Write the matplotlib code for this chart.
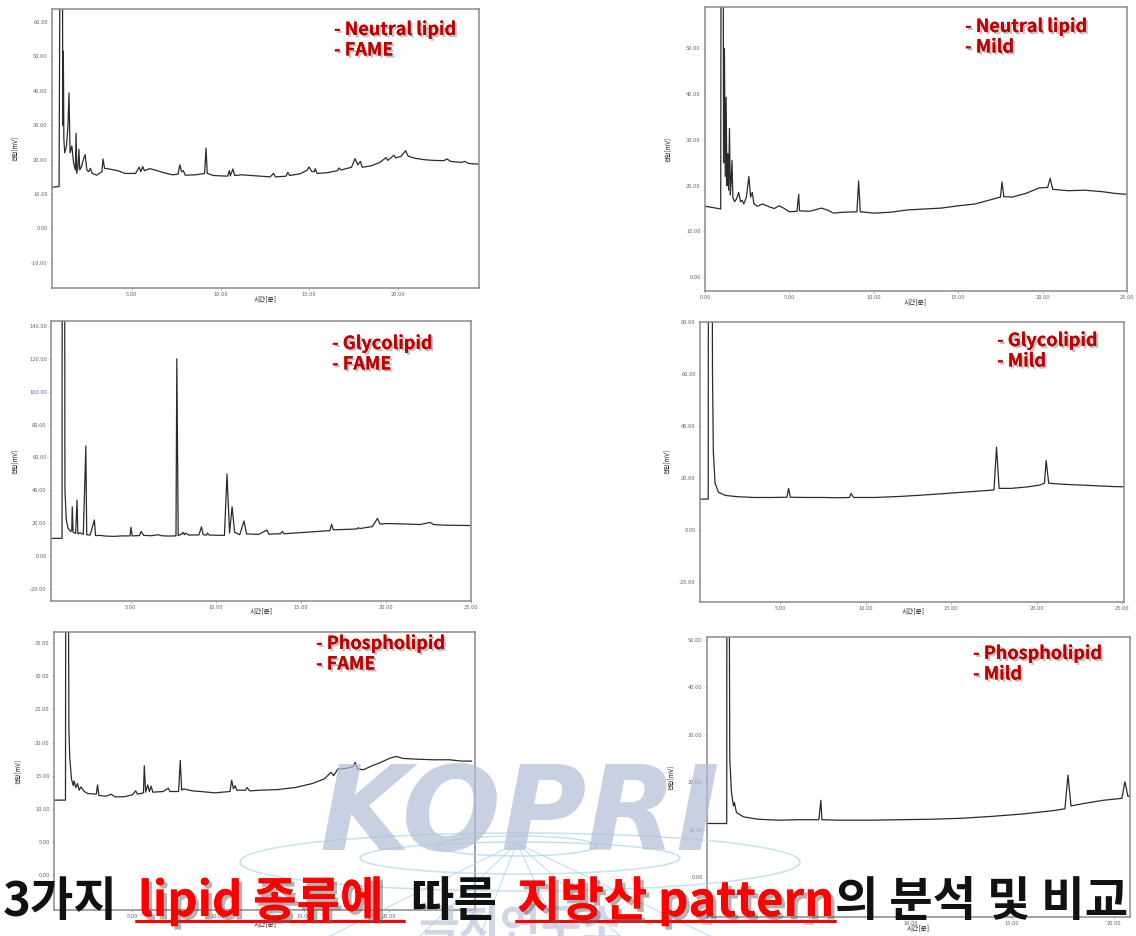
import matplotlib
matplotlib.use("Agg")
import matplotlib.pyplot as plt
import matplotlib.patheffects as pe
from matplotlib.patches import Ellipse
import numpy as np

plt.rcParams['font.family'] = ['Noto Sans CJK KR', 'DejaVu Sans']

W, H = 1136, 936

# GC traces, retention time (min) vs detector signal (mV)
neutral_fame_t = [0.48, 0.88, 0.93, 1.07, 1.09, 1.12, 1.15, 1.2, 1.3, 1.38, 1.44, 1.5, 1.6, 1.7, 1.8, 1.84, 1.88,
                  1.95, 2.0, 2.05, 2.15, 2.25, 2.35, 2.45, 2.55, 2.65, 2.75, 3.0, 3.3, 3.36, 3.45, 3.8, 4.2, 4.6,
                  5.2, 5.4, 5.5, 5.6, 5.7, 6.0, 6.3, 6.8, 7.3, 7.6, 7.7, 7.8, 7.9, 8.0, 8.6, 9.1, 9.18, 9.25,
                  9.6, 10.4, 10.5, 10.55, 10.7, 10.8, 11.2, 12.0, 12.8, 13.0, 13.1, 13.7, 13.8, 13.9, 14.5, 14.9,
                  15.0, 15.15, 15.3, 15.35, 15.45, 16.0, 16.6, 16.7, 16.8, 17.4, 17.6, 17.75, 17.9, 18.0, 18.5,
                  19.0, 19.35, 19.45, 19.8, 19.9, 20.2, 20.45, 20.6, 21.0, 21.5, 22.0, 22.6, 22.8, 23.0, 23.6,
                  23.8, 24.0, 24.6]
neutral_fame_y = [12.0, 12.2, 80, 80, 30, 51.5, 26, 22, 24, 30, 39.4, 22, 24, 19, 17, 27.7, 16,
                  18, 23, 17, 18, 20, 21.5, 17, 16.5, 17.5, 16, 15.5, 16.5, 20.2, 17.5, 17.2, 16.8, 16,
                  16, 17.8, 16.5, 18, 16.8, 17.4, 17, 16.2, 15.6, 15.8, 18.5, 16.5, 16.8, 15.5, 15.6, 16, 23.4, 16,
                  15.4, 15.2, 16.8, 15.3, 17.3, 15.4, 15.6, 15.3, 15.0, 16.0, 15.0, 15.2, 16.3, 15.4, 15.9, 17.0,
                  17.9, 16.6, 16.5, 17.4, 16.0, 16.2, 16.8, 17.6, 17.0, 17.8, 20.3, 18.5, 19.5, 17.8, 18.2,
                  19.2, 20.6, 19.8, 21.3, 20.5, 21.0, 22.6, 21.0, 20.4, 20.0, 19.8, 19.7, 20.2, 19.5, 19.2,
                  19.5, 18.9, 18.7]

neutral_mild_t = [0, 0.5, 0.93, 0.95, 1.08, 1.1, 1.15, 1.2, 1.25, 1.3, 1.35, 1.4, 1.45, 1.5, 1.55, 1.6, 1.65,
                  1.75, 1.85, 2.0, 2.1, 2.2, 2.3, 2.45, 2.6, 2.7, 2.8, 2.9, 3.1, 3.4, 3.8, 4.1, 4.4, 4.7, 5.0,
                  5.45, 5.55, 5.6, 6.2, 6.6, 6.9, 7.3, 7.6, 8.2, 9.0, 9.1, 9.2, 10.0, 11.0, 12.0, 13.0, 14.0,
                  15.0, 16.0, 16.5, 17.2, 17.5, 17.6, 17.7, 18.2, 19.0, 19.8, 20.3, 20.45, 20.6, 21.5, 22.5,
                  23.5, 24.3, 25.0]
neutral_mild_y = [15.5, 15.2, 14.9, 70, 70, 25, 50, 22, 39.3, 20, 27, 19, 32.5, 18, 21, 25.5, 17.5,
                  16.5, 17, 18.5, 16.5, 16.8, 16, 17.5, 22, 17.5, 18.5, 16, 15.5, 16.0, 15.4, 15.0, 15.6, 15.0, 14.3,
                  14.4, 18.1, 14.5, 14.4, 14.8, 15.1, 14.6, 14.0, 14.2, 14.3, 21.0, 14.3, 14.0, 14.2, 14.7, 14.9, 15.1,
                  15.6, 16.0, 16.5, 17.2, 17.5, 20.8, 17.6, 17.5, 18.3, 19.5, 19.6, 21.6, 19.2, 18.9, 19.0,
                  18.7, 18.3, 18.1]

glyco_fame_t = [0.3, 0.95, 0.96, 1.1, 1.12, 1.2, 1.3, 1.45, 1.52, 1.55, 1.6, 1.75, 1.83, 1.88, 2.0, 2.2, 2.35,
                2.4, 2.6, 2.85, 2.92, 3.2, 3.5, 4.0, 4.5, 4.95, 5.0, 5.08, 5.5, 5.6, 5.75, 6.2, 6.6, 6.8, 7.2,
                7.65, 7.7, 7.78, 8.0, 8.05, 8.15, 8.2, 8.4, 9.0, 9.15, 9.25, 9.45, 9.5, 9.6, 10.5, 10.65, 10.8,
                10.95, 11.1, 11.4, 11.65, 11.8, 12.5, 13.0, 13.1, 13.8, 13.9, 14.0, 15.0, 16.0, 16.7, 16.8,
                16.9, 17.5, 18.3, 18.35, 18.5, 19.2, 19.5, 19.65, 20.0, 21.0, 22.0, 22.6, 22.8, 23.5, 24.2, 25.0]
glyco_fame_y = [10.8, 10.8, 200, 200, 40, 22, 17, 15, 15.5, 30, 14.5, 13.8, 34, 13.5, 14.2, 13.2, 67,
                13, 12.8, 22, 12.5, 12.6, 12.2, 12.0, 12.3, 12.3, 17.5, 12.3, 12.5, 15.0, 12.6, 12.4, 13.0, 12.4, 12.2,
                12.3, 120, 12.5, 13.5, 14.5, 13.0, 14.0, 12.8, 12.9, 17.8, 13.0, 12.8, 14.0, 12.8, 12.6, 50, 14,
                30, 14.5, 13.0, 21.4, 13.5, 13.2, 15.8, 13.4, 13.6, 15.0, 13.6, 14.3, 15.0, 15.5, 19.4,
                16.0, 16.2, 16.5, 17.2, 16.8, 18.0, 22.9, 19.5, 19.8, 19.6, 19.2, 20.5, 19.2, 18.8, 18.7, 18.6]

glyco_mild_t = [0.32, 0.8, 0.82, 1.0, 1.05, 1.1, 1.2, 1.4, 1.8, 2.5, 3.5, 4.5, 5.4, 5.5, 5.6, 6.5, 7.5, 8.5,
                9.05, 9.15, 9.3, 10.5, 12.0, 13.5, 15.0, 16.5, 17.5, 17.65, 17.8, 18.5, 19.5, 20.2, 20.45,
                20.55, 20.7, 21.5, 22.5, 23.5, 24.5, 25.1]
glyco_mild_y = [11.9, 11.9, 200, 200, 60, 30, 18, 14.5, 13.3, 12.8, 12.5, 12.5, 12.6, 16.0, 12.6, 12.5, 12.5, 12.4,
                12.5, 14.0, 12.5, 12.5, 12.9, 13.5, 14.2, 14.9, 15.4, 31.8, 16.0, 16.0, 16.6, 17.3, 18.0,
                26.7, 18.0, 17.6, 17.3, 17.0, 16.7, 16.6]

phospho_fame_t = [0.4, 1.1, 1.12, 1.25, 1.3, 1.35, 1.45, 1.55, 1.6, 1.7, 1.8, 1.9, 2.0, 2.2, 2.4, 2.9, 2.97,
                  3.05, 3.5, 3.75, 4.0, 4.5, 5.0, 5.2, 5.3, 5.65, 5.7, 5.78, 5.9, 6.0, 6.1, 6.2, 6.8, 7.1, 7.2,
                  7.7, 7.8, 7.88, 8.0, 8.5, 9.0, 9.8, 10.7, 10.8, 10.9, 11.0, 11.1, 11.6, 11.7, 11.85, 12.5,
                  13.5, 14.5, 15.5, 16.2, 16.6, 16.75, 17.0, 17.5, 17.9, 18.0, 18.15, 18.5, 19.0, 19.5, 20.0,
                  20.4, 20.8, 21.5, 22.5, 23.5, 24.2, 24.8]
phospho_fame_y = [11.3, 11.3, 60, 60, 22, 17.7, 14.5, 13.5, 14.2, 13.2, 13.8, 12.8, 13.3, 12.6, 12.3, 12.2, 13.6,
                  12.0, 11.9, 12.2, 11.8, 11.8, 12.1, 12.7, 12.2, 12.4, 16.5, 12.5, 13.6, 12.6, 13.4, 12.5, 12.6, 13.1, 12.6,
                  12.6, 17.3, 12.8, 13.0, 12.7, 12.6, 12.4, 12.6, 14.3, 13.0, 13.5, 12.8, 12.8, 13.2, 12.7, 12.8,
                  12.9, 13.2, 13.8, 14.5, 15.5, 15.0, 16.0, 16.1, 16.4, 17.0, 16.0, 15.9, 16.5, 17.0, 17.6,
                  17.9, 17.6, 17.5, 17.4, 17.4, 17.2, 17.2]

phospho_mild_t = [0, 0.97, 0.98, 1.08, 1.12, 1.2, 1.3, 1.35, 1.45, 1.8, 2.5, 3.5, 4.5, 5.5, 5.6, 5.65, 6.5,
                  8.0, 9.5, 11.0, 12.5, 14.0, 15.5, 17.0, 17.6, 17.75, 17.9, 18.5, 19.5, 20.4, 20.55, 20.7, 20.8]
phospho_mild_y = [11.3, 11.3, 80, 80, 25, 18, 15, 15.7, 13.6, 12.7, 12.2, 12.0, 12.1, 12.1, 16.2, 12.1, 12.0,
                  12.0, 12.1, 12.2, 12.4, 12.8, 13.3, 14.0, 14.4, 21.5, 15.0, 15.5, 16.2, 16.6, 20.1, 17.0, 17.1]

lipid_labels = ['- Neutral lipid\n- FAME', '- Neutral lipid\n- Mild',
                '- Glycolipid\n- FAME', '- Glycolipid\n- Mild',
                '- Phospholipid\n- FAME', '- Phospholipid\n- Mild']

caption_parts = ['3가지', 'lipid 종류에', '따른', '지방산 pattern', '의 분석 및 비교']


def px_box(l, t, r, b):
    return [l / W, 1 - b / H, (r - l) / W, (b - t) / H]


fig = plt.figure(figsize=(W / 100, H / 100), dpi=100)
fig.patch.set_facecolor('white')

# panel frame (px), x range, y range, y ticks, x ticks, label position, ylabel x, xlabel (x, y)
panels = [
    ((52, 9, 479, 288), (0.48, 24.6), (-17.3, 63.8), np.arange(-10, 61, 10), [5, 10, 15, 20],
     (334, 20), 15, (265, 300), neutral_fame_t, neutral_fame_y),
    ((705, 7, 1127, 291), (0, 25), (-3, 59), np.arange(0, 51, 10), [0, 5, 10, 15, 20, 25],
     (965, 17), 668, (915, 303), neutral_mild_t, neutral_mild_y),
    ((51, 321, 471, 601), (0.3, 25), (-27.3, 143), np.arange(-20, 141, 20), [5, 10, 15, 20, 25],
     (332, 334), 15, (261, 612), glyco_fame_t, glyco_fame_y),
    ((700, 322, 1124, 602), (0.32, 25.1), (-27.7, 80), np.arange(-20, 81, 20), [5, 10, 15, 20, 25],
     (997, 331), 667, (913, 612), glyco_mild_t, glyco_mild_y),
    ((54, 632, 475, 910), (0.43, 24.8), (-5.3, 36.7), np.arange(0, 36, 5), [5, 10, 15, 20, 25],
     (316, 634), 18, (265, 925), phospho_fame_t, phospho_fame_y),
    ((707, 637, 1130, 917), (0, 20.8), (-8.4, 50.6), np.arange(0, 51, 10), [0, 5, 10, 15, 20],
     (973, 644), 671, (918, 929), phospho_mild_t, phospho_mild_y),
]

red_shadow = [pe.withSimplePatchShadow(offset=(1.5, -1.5), shadow_rgbFace='#777777', alpha=0.45), pe.Normal()]
cap_shadow = [pe.withSimplePatchShadow(offset=(2.5, -2.5), shadow_rgbFace='#666666', alpha=0.5), pe.Normal()]

for (box, xl, yl, yt, xt, lab_xy, ylab_x, xlab_xy, t, y), lab in zip(panels, lipid_labels):
    ax = fig.add_axes(px_box(*box))
    ax.plot(t, y, color='#2b2b2b', lw=0.9)
    ax.set_xlim(*xl)
    ax.set_ylim(*yl)
    ax.set_yticks(yt)
    ax.set_yticklabels(['%.2f' % v for v in yt])
    ax.set_xticks(xt)
    ax.set_xticklabels(['%.2f' % v for v in xt])
    ax.tick_params(length=1.5, width=0.5, labelsize=4.2, labelcolor='#5f6b8a', color='#999999', pad=1.5)
    for s in ax.spines.values():
        s.set_color('#8a8a8a')
        s.set_linewidth(1.1)
    fig.text(ylab_x / W, 1 - (box[1] + box[3]) / 2 / H, '전압[mV]', rotation=90, fontsize=4.5,
             ha='center', va='center', color='#222222')
    fig.text(xlab_xy[0] / W, 1 - xlab_xy[1] / H, '시간[분]', fontsize=4.8, ha='center', va='center',
             color='#222222')
    fig.text(lab_xy[0] / W, 1 - lab_xy[1] / H, lab, fontsize=13, fontweight='bold', color='#c00000',
             ha='left', va='top', linespacing=1.1, path_effects=red_shadow, zorder=5)

# KOPRI watermark layer
wm = fig.add_axes([0, 0, 1, 1], zorder=10)
wm.set_xlim(0, W)
wm.set_ylim(H, 0)
wm.axis('off')
wm.patch.set_alpha(0)
wm.text(520, 818, 'KOPRI', fontsize=84, fontweight='bold', fontstyle='italic', family='DejaVu Sans',
        color='#b3bdd5', alpha=0.7, ha='center', va='center')
globe_col = '#acd6ea'
for cx, cy, ew, eh in [(520, 862, 560, 58), (520, 858, 320, 32), (517, 846, 160, 20)]:
    wm.add_patch(Ellipse((cx, cy), ew, eh, fill=False, ec=globe_col, lw=1.1, alpha=0.7))
for ex in [330, 420, 480, 560, 620, 710]:
    wm.plot([517, ex], [843, 936], color=globe_col, lw=0.9, alpha=0.7)
wm.text(520, 928, '극지연구소', fontsize=32, fontweight='bold', color='#bcc5da', alpha=0.7,
        ha='center', va='center')

# caption
cap = fig.add_axes([0, 0, 1, 1], zorder=20)
cap.set_xlim(0, W)
cap.set_ylim(H, 0)
cap.axis('off')
cap.patch.set_alpha(0)
cap_x = [3, 138, 410, 517, 835]
cap_col = ['#111111', '#ff0000', '#111111', '#ff0000', '#111111']
for s, x0, c in zip(caption_parts, cap_x, cap_col):
    fx = cap_shadow if c == '#ff0000' else None
    cap.text(x0, 916, s, fontsize=34, fontweight='bold', color=c, ha='left', va='baseline',
             path_effects=fx)
for x0, x1 in [(135, 405), (515, 836)]:
    cap.plot([x0, x1], [921, 921], color='#ff0000', lw=2.2, solid_capstyle='butt', path_effects=cap_shadow)

fig.savefig('out.png', dpi=100)
